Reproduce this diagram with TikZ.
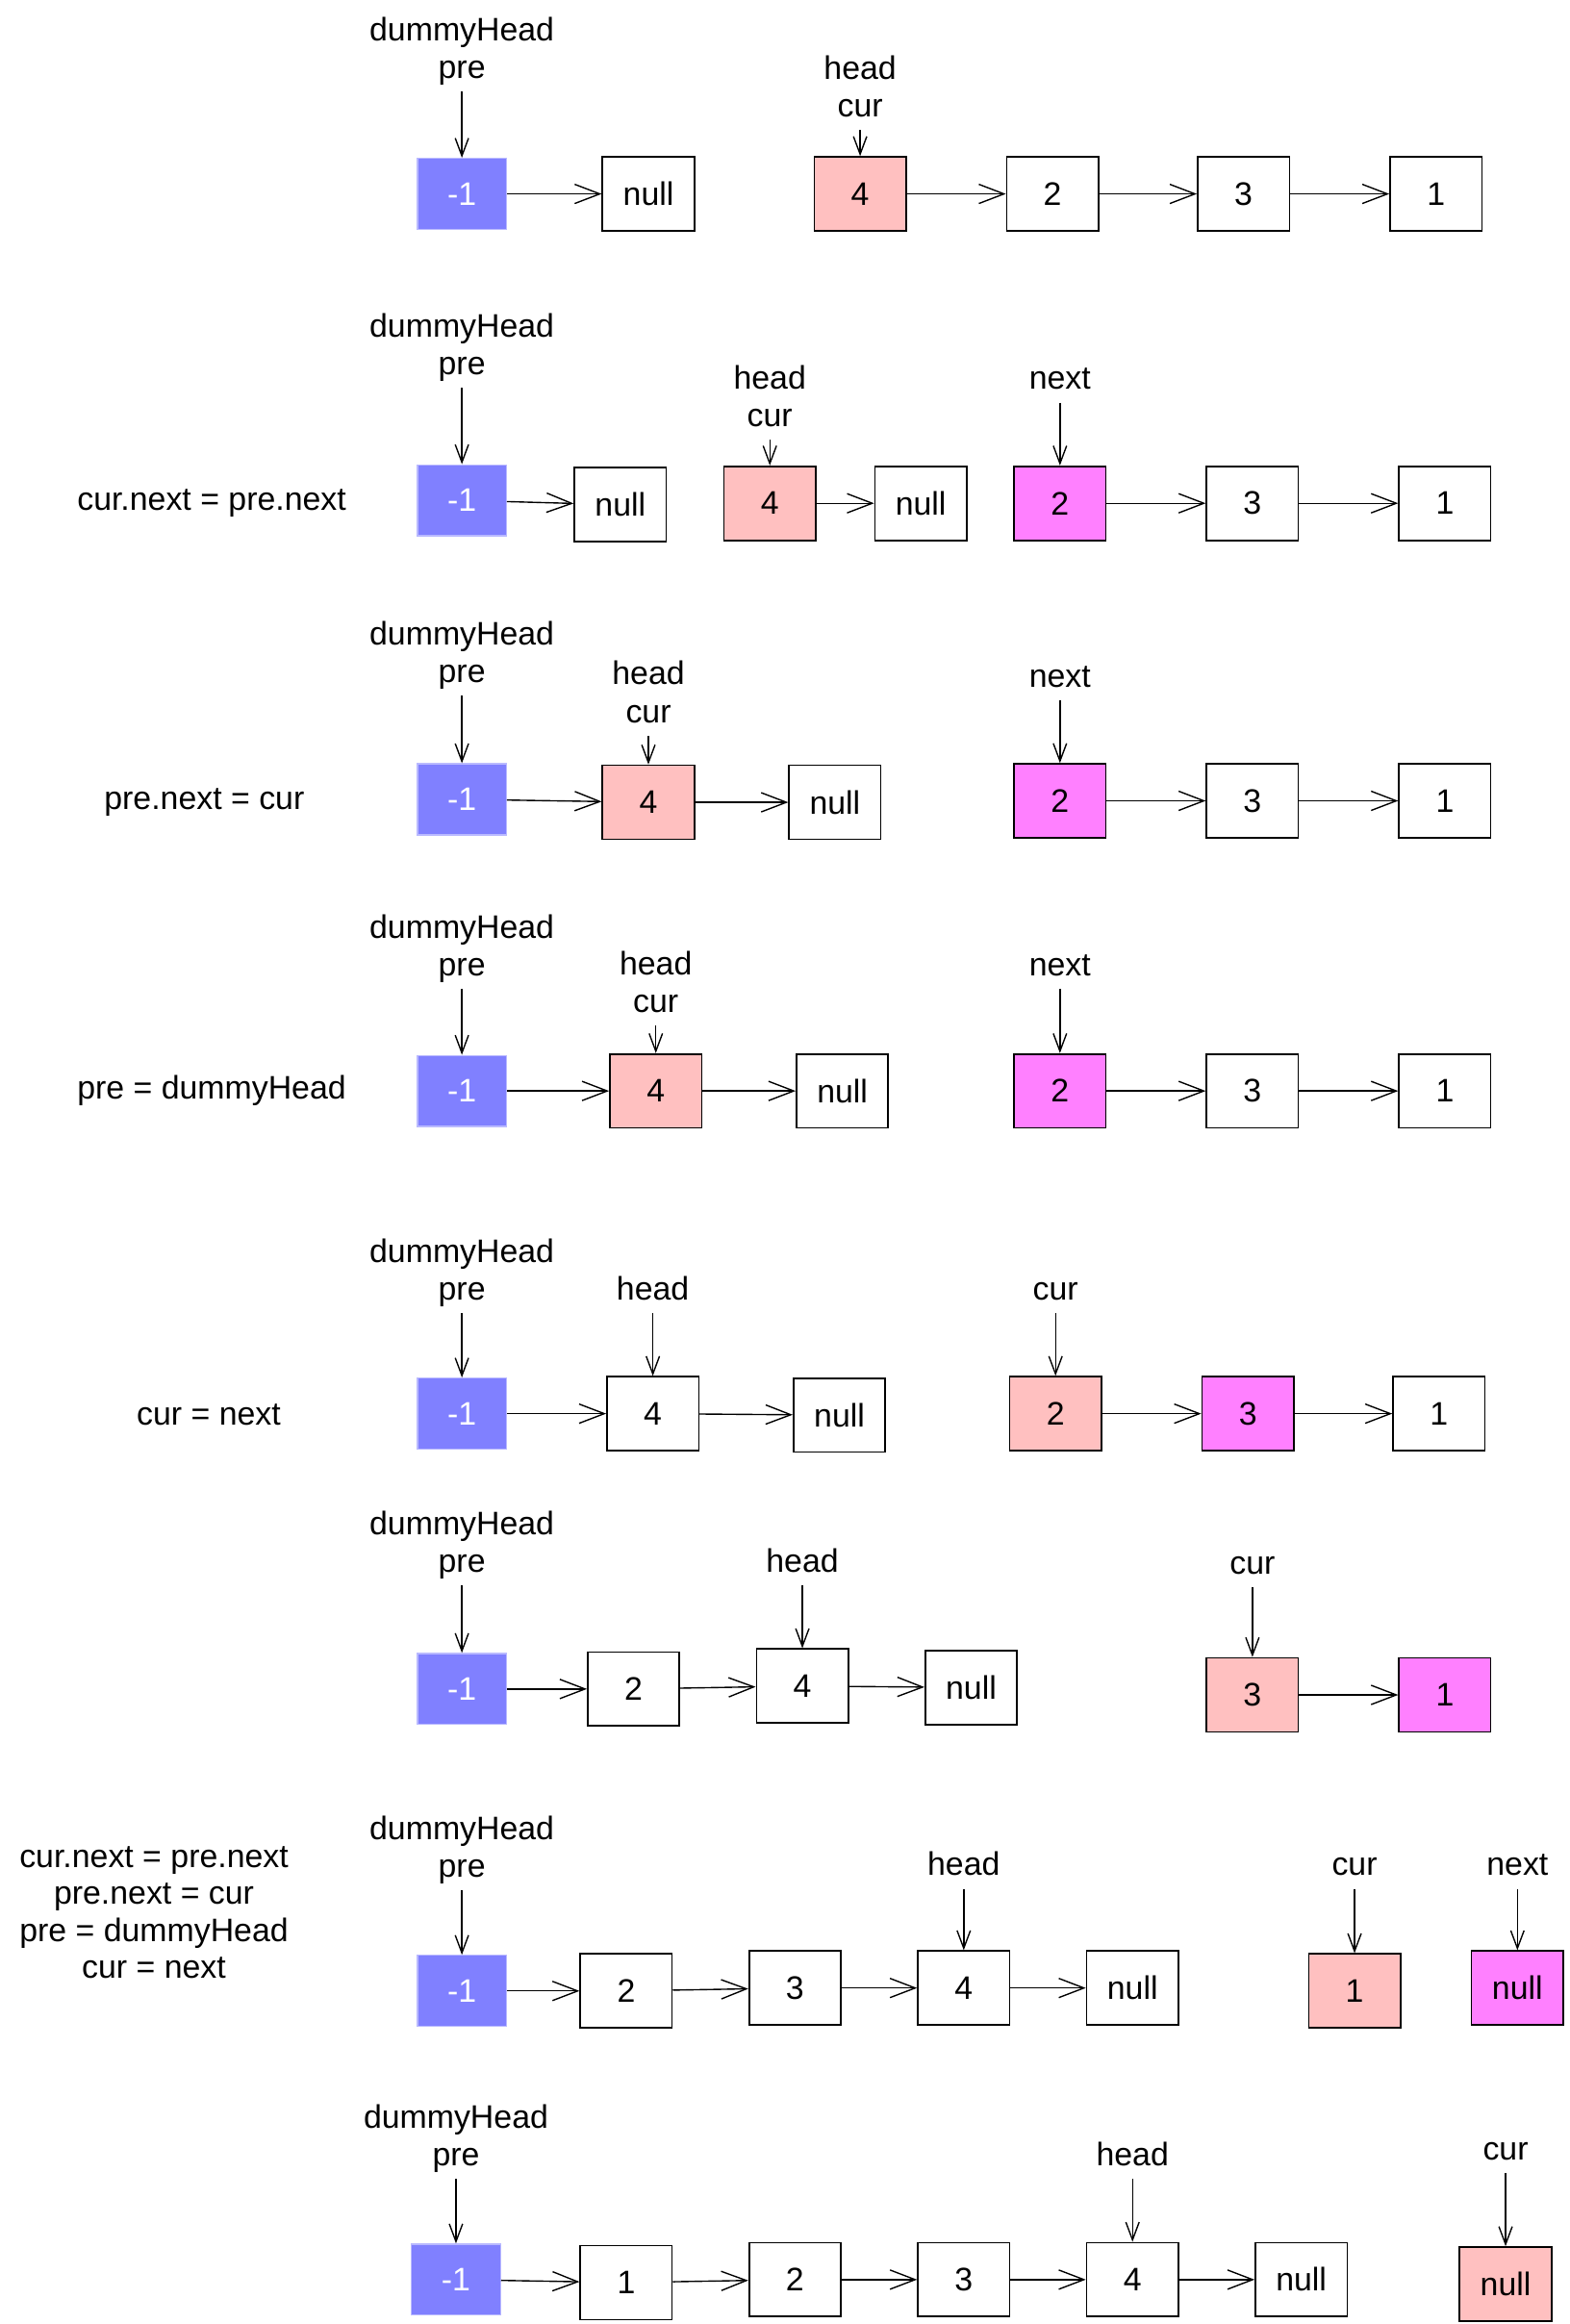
\documentclass[tikz,border=0pt]{standalone}
\usepackage{fontspec}
\setmainfont{Liberation Sans}
\usetikzlibrary{
		positioning,
		arrows.meta
	}
\definecolor{dummyblue}{RGB}{128,128,255}
\definecolor{dummyedge}{RGB}{185,185,255}
\definecolor{curpink}{RGB}{255,192,192}
\definecolor{nextpink}{RGB}{255,128,255}
\tikzset{
		>={Straight Barb[length=17pt,width=13pt]}
	}
\tikzset{
		cell/.style={draw, line width=1.1pt, minimum width=62pt, minimum height=50pt, inner sep=0pt, font=\fontsize{22}{26}\selectfont},
		whitecell/.style={cell},
		minuscell/.style={cell, fill=dummyblue, draw=dummyedge, line width=.8pt, text=white, minimum width=60pt, minimum height=48pt},
		curcell/.style={cell, fill=curpink},
		nextcell/.style={cell, fill=nextpink}
	}

\begin{document}
\begin{tikzpicture}[x=1pt, y=-1pt, % (one unit = one pixel of the drawing, y going down)
		tag/.style={align=center, anchor=south, inner sep=1pt, font=\fontsize{22}{25.5}\selectfont, execute at end node=\strut},
		note/.style={align=center, font=\fontsize{22}{24.7}\selectfont},
		link/.style={->, line width=.9pt},
		ptr/.style={-{Straight Barb[length=12pt,width=9pt]}, line width=.9pt}]
		\useasboundingbox (0,0) rectangle (1060,1570);
		% the boxes, row by row
		\foreach \n/\s/\x/\y/\t in {
				A0/minuscell/312/131/-1, A1/whitecell/438/131/null, A2/curcell/581/131/4, A3/whitecell/711/131/2, A4/whitecell/840/131/3, A5/whitecell/970/131/1,
				B0/minuscell/312/338/-1, B1/whitecell/419/341/null, B2/curcell/520/340/4, B3/whitecell/622/340/null, B4/nextcell/716/340/2, B5/whitecell/846/340/3, B6/whitecell/976/340/1,
				C0/minuscell/312/540/-1, C1/curcell/438/542/4, C2/whitecell/564/542/null, C3/nextcell/716/541/2, C4/whitecell/846/541/3, C5/whitecell/976/541/1,
				D0/minuscell/312/737/-1, D1/curcell/443/737/4, D2/whitecell/569/737/null, D3/nextcell/716/737/2, D4/whitecell/846/737/3, D5/whitecell/976/737/1,
				E0/minuscell/312/955/-1, E1/whitecell/441/955/4, E2/whitecell/567/956/null, E3/curcell/713/955/2, E4/nextcell/843/955/3, E5/whitecell/972/955/1,
				F0/minuscell/312/1141/-1, F1/whitecell/428/1141/2, F2/whitecell/542/1139/4, F3/whitecell/656/1140/null, F4/curcell/846/1145/3, F5/nextcell/976/1145/1,
				G0/minuscell/312/1345/-1, G1/whitecell/423/1345/2, G2/whitecell/537/1343/3, G3/whitecell/651/1343/4, G4/whitecell/765/1343/null, G5/curcell/915/1345/1, G6/nextcell/1025/1343/null,
				H0/minuscell/308/1540/-1, H1/whitecell/423/1542/1, H2/whitecell/537/1540/2, H3/whitecell/651/1540/3, H4/whitecell/765/1540/4, H5/whitecell/879/1540/null, H6/curcell/1017/1543/null} {
			\node[\s] (\n) at (\x,\y) {\t};
		}
		\foreach \a/\b in {A0/A1, A2/A3, A3/A4, A4/A5, B0/B1, B2/B3, B4/B5, B5/B6, C0/C1, C1/C2, C3/C4, C4/C5, D0/D1, D1/D2, D3/D4, D4/D5,
				E0/E1, E1/E2, E3/E4, E4/E5, F0/F1, F1/F2, F2/F3, F4/F5, G0/G1, G1/G2, G2/G3, G3/G4, H0/H1, H1/H2, H2/H3, H3/H4, H4/H5} {
			\draw[link] (\a) -- (\b);
		}
		% the pointers above the boxes
		\foreach \n/\x/\y/\t/\b in {
				tA0/312/62/{dummyHead\\pre}/A0, tA2/581/88/{head\\cur}/A2,
				tB0/312/262/{dummyHead\\pre}/B0, tB2/520/297/{head\\cur}/B2, tB4/716/272/{next}/B4,
				tC0/312/470/{dummyHead\\pre}/C0, tC1/438/497/{head\\cur}/C1, tC3/716/473/{next}/C3,
				tD0/312/668/{dummyHead\\pre}/D0, tD1/443/693/{head\\cur}/D1, tD3/716/668/{next}/D3,
				tE0/312/887/{dummyHead\\pre}/E0, tE1/441/887/{head}/E1, tE3/713/887/{cur}/E3,
				tF0/312/1071/{dummyHead\\pre}/F0, tF2/542/1071/{head}/F2, tF4/846/1072/{cur}/F4,
				tG0/312/1277/{dummyHead\\pre}/G0, tG3/651/1276/{head}/G3, tG5/915/1276/{cur}/G5, tG6/1025/1276/{next}/G6,
				tH0/308/1472/{dummyHead\\pre}/H0, tH4/765/1472/{head}/H4, tH6/1017/1468/{cur}/H6} {
			\node[tag] (\n) at (\x,\y) {\t};
			\draw[ptr] (\n) -- (\b);
		}
		% the steps on the left
		\node[note] (sB) at (143,340) {cur.next = pre.next};
		\node[note] (sC) at (138,542) {pre.next = cur};
		\node[note] (sD) at (143,737) {pre = dummyHead};
		\node[note] (sE) at (141,956) {cur = next};
		\node[note] (sG) at (104,1292) {cur.next = pre.next\\pre.next = cur\\pre = dummyHead\\cur = next};
	\end{tikzpicture}
\end{document}
